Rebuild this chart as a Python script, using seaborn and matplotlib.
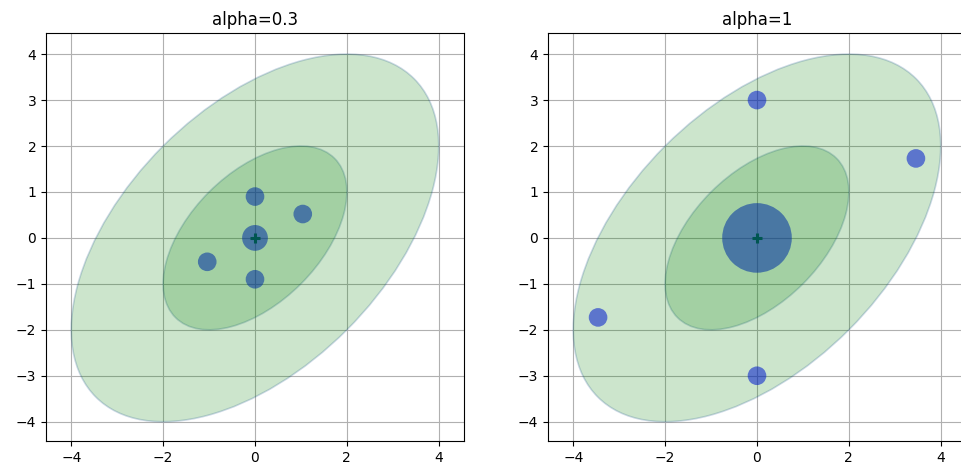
import numpy as np
import pandas as pd
import matplotlib
matplotlib.use("Agg")
import matplotlib.pyplot as plt
from matplotlib.patches import Ellipse
import seaborn as sns

# Media y covarianza de la distribución
mean = [0.0, 0.0]
cov = [[4.0, 2.0], [2.0, 4.0]]
stds = [1, 2]

# Puntos sigma (alpha=0.3)
sx_03 = [0.0, 1.04, 0.0, -1.04, 0.0]
sy_03 = [0.0, 0.52, 0.90, -0.52, -0.90]
wc_03 = [3.54, 1.85, 1.85, 1.85, 1.85]

# Puntos sigma (alpha=1)
sx_1 = [0.0, 3.46, 0.0, -3.46, 0.0]
sy_1 = [0.0, 1.73, 3.0, -1.73, -3.0]
wc_1 = [2.33, 0.167, 0.167, 0.167, 0.167]

titles = ["alpha=0.3", "alpha=1"]


def dibujar(ax, sx, sy, wc, titulo):
    df = pd.DataFrame({"x": sx, "y": sy, "w": np.abs(wc)})
    df["s"] = df["w"] * 180 / df["w"].min()
    sns.scatterplot(data=df, x="x", y="y", s=df["s"], color="b", alpha=0.55,
                    edgecolor="none", legend=False, ax=ax, zorder=2)
    ax.scatter(mean[0], mean[1], marker="+", color="#004080", s=50,
               linewidths=2.2, zorder=2)

    # Elipses de covarianza (1 y 2 desviaciones)
    vals, vecs = np.linalg.eigh(np.array(cov))
    order = vals.argsort()[::-1]
    vals, vecs = vals[order], vecs[:, order]
    ang = np.degrees(np.arctan2(vecs[1, 0], vecs[0, 0]))
    for sd in stds:
        e = Ellipse(xy=mean, width=2 * sd * np.sqrt(vals[0]), height=2 * sd * np.sqrt(vals[1]),
                    angle=ang, facecolor="g", edgecolor="#004080", lw=1.2, alpha=0.2, zorder=3)
        ax.add_patch(e)

    ax.set_xlim(-4.55, 4.55)
    ax.set_ylim(-4.42, 4.46)
    ax.set_xticks([-4, -2, 0, 2, 4])
    ax.set_yticks([-4, -3, -2, -1, 0, 1, 2, 3, 4])
    ax.grid(True, color="#b0b0b0", lw=0.8)
    ax.set_axisbelow(True)
    ax.set_xlabel("")
    ax.set_ylabel("")
    ax.set_title(titulo, fontsize=12)


fig = plt.figure(figsize=(9.61, 4.75), dpi=100)
ax1 = fig.add_axes([46 / 961, 34 / 475, 418 / 961, 408 / 475])
ax2 = fig.add_axes([548 / 961, 34 / 475, 418 / 961, 408 / 475])

dibujar(ax1, sx_03, sy_03, wc_03, titles[0])
dibujar(ax2, sx_1, sy_1, wc_1, titles[1])

fig.savefig("out.png", dpi=100)
